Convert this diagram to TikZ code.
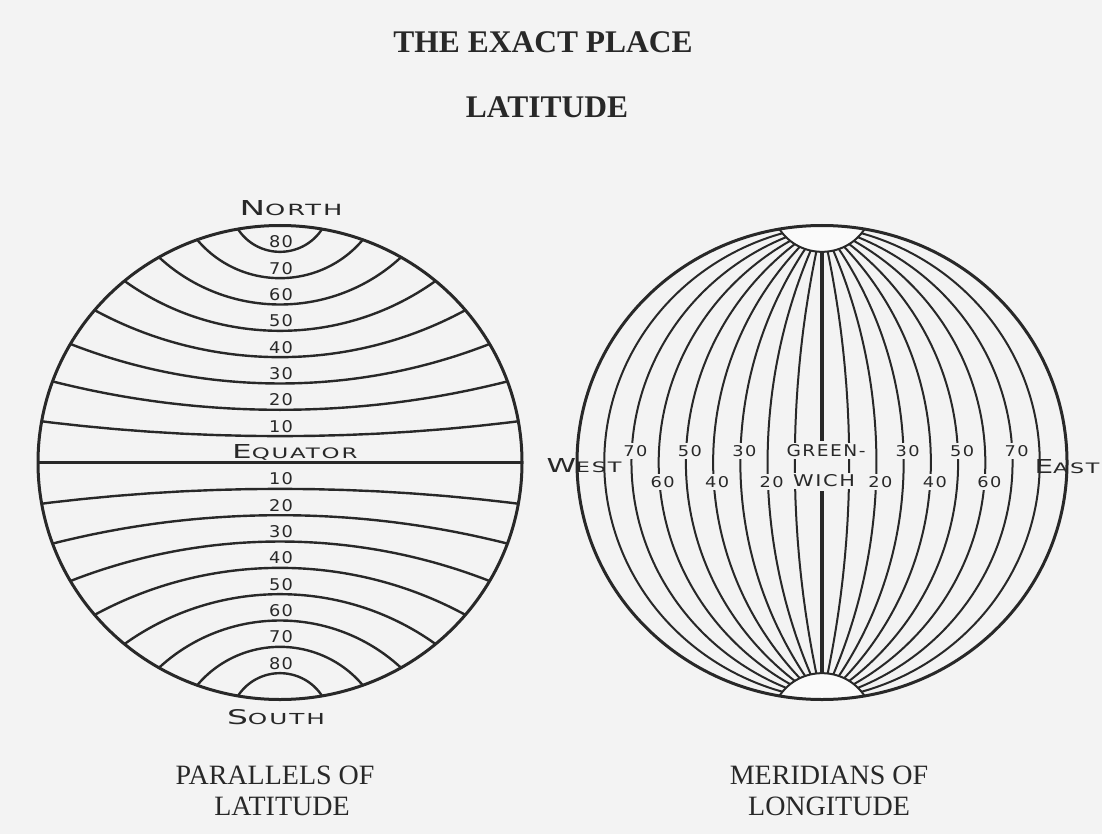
\documentclass[tikz,border=0pt]{standalone}
\usepackage{fontspec}
\usepackage{graphicx}
\setmainfont{Liberation Serif}
\newfontfamily\handfont[LetterSpace=8]{DejaVu Sans}
\definecolor{bg}{RGB}{243,243,243}
\definecolor{ink}{RGB}{40,40,40}
\newcommand\hw[3]{\resizebox{#1pt}{#2pt}{\handfont #3}}
\newcommand\mixcaps[2]{{\fontsize{16}{16}\selectfont #1}{\fontsize{12}{12}\selectfont #2}}
\tikzset{
  outerline/.style={draw=ink, line width=3pt},
  parline/.style={draw=ink, line width=2.4pt},
  merline/.style={draw=ink, line width=2pt},
  gwline/.style={draw=ink, line width=4pt},
  numlbl/.style={text=ink, inner sep=0pt},
  gridlbl/.style={text=ink, fill=bg, inner sep=2pt},
  handlbl/.style={text=ink, inner sep=0pt},
  titletext/.style={text=ink, inner sep=0pt, anchor=base, font=\fontsize{31.5}{36}\selectfont\bfseries},
  captiontext/.style={text=ink, inner sep=0pt, anchor=base, font=\fontsize{28}{32}\selectfont},
}
\begin{document}
\begin{tikzpicture}[x=1pt, y=-1pt]
\fill[bg] (0,0) rectangle (1102,834);
\useasboundingbox (0,0) rectangle (1102,834);

% ---------- titles ----------
\node[titletext] (t1) at (543,53) {THE EXACT PLACE};
\node[titletext] (t2) at (547,118) {LATITUDE};

% ---------- left globe: parallels ----------
\begin{scope}[shift={(280,462.5)}, x=242pt, y=237pt]
  \draw[parline] (-1,0) -- (1,0);
  \foreach \p in {10,20,30,40,50,60,70,80}{
    \pgfmathsetmacro\gA{cos(\p)}
    \pgfmathsetmacro\gB{sin(\p)}
    \pgfmathsetmacro\gC{\p/90}
    \pgfmathsetmacro\gK{(1-\gC*\gC)/(2*(\gB-\gC))}
    \pgfmathsetmacro\gR{\gK-\gC}
    \pgfmathsetmacro\gT{atan2(\gB-\gK,\gA)}
    \pgfmathsetmacro\gU{-180-\gT}
    \draw[parline] plot[domain=\gU:\gT, samples=60, smooth] ({\gR*cos(\x)}, {\gK+\gR*sin(\x)});
    \draw[parline] plot[domain=\gU:\gT, samples=60, smooth] ({\gR*cos(\x)}, {-\gK-\gR*sin(\x)});
  }
  \draw[outerline] (0,0) ellipse[x radius=242pt, y radius=237pt];
\end{scope}

% ---------- right globe: meridians ----------
\begin{scope}[shift={(822,462.5)}, x=245pt, y=237pt]
  \foreach \m in {1,...,8}{
    \pgfmathsetmacro\gM{\m/9}
    \pgfmathsetmacro\gH{(\gM*\gM-1)/(2*\gM)}
    \pgfmathsetmacro\gR{\gM-\gH}
    \pgfmathsetmacro\gT{atan2(1,-\gH)}
    \draw[merline] plot[domain=-\gT:\gT, samples=60, smooth] ({\gH+\gR*cos(\x)}, {\gR*sin(\x)});
    \draw[merline] plot[domain=-\gT:\gT, samples=60, smooth] ({-\gH-\gR*cos(\x)}, {\gR*sin(\x)});
  }
  % polar caps
  \pgfmathsetmacro\gA{cos(80)}
  \pgfmathsetmacro\gB{sin(80)}
  \pgfmathsetmacro\gC{80/90}
  \pgfmathsetmacro\gK{(1-\gC*\gC)/(2*(\gB-\gC))}
  \pgfmathsetmacro\gR{\gK-\gC}
  \pgfmathsetmacro\gT{atan2(\gB-\gK,\gA)}
  \pgfmathsetmacro\gU{-180-\gT}
  \fill[bg!40!white] plot[domain=80:100, samples=20] ({cos(\x)},{sin(\x)}) -- plot[domain=\gU:\gT, samples=40] ({\gR*cos(\x)},{\gK+\gR*sin(\x)}) -- cycle;
  \fill[bg!40!white] plot[domain=80:100, samples=20] ({cos(\x)},{-sin(\x)}) -- plot[domain=\gU:\gT, samples=40] ({\gR*cos(\x)},{-\gK-\gR*sin(\x)}) -- cycle;
  \draw[merline] plot[domain=\gU:\gT, samples=40, smooth] ({\gR*cos(\x)},{\gK+\gR*sin(\x)});
  \draw[merline] plot[domain=\gU:\gT, samples=40, smooth] ({\gR*cos(\x)},{-\gK-\gR*sin(\x)});
  \draw[outerline] (0,0) ellipse[x radius=245pt, y radius=237pt];
\end{scope}
% Greenwich meridian
\draw[gwline] (822,252) -- (822,441);
\draw[gwline] (822,491) -- (822,673);

% ---------- left globe labels ----------
\node[handlbl] (north) at (291,208) {\hw{103}{15}{\mixcaps{N}{ORTH}}};
\node[handlbl] (south) at (276,717) {\hw{98}{15}{\mixcaps{S}{OUTH}}};
\node[handlbl] (equator) at (295,452) {\hw{125}{14}{\mixcaps{E}{QUATOR}}};
\foreach \p in {10,20,30,40,50,60,70,80}{
  \node[numlbl] (n\p) at (281,{452.5-2.6333*\p}) {\hw{24}{12}{\p}};
  \node[numlbl] (s\p) at (281,{452.5+2.6333*\p}) {\hw{24}{12}{\p}};
}

% ---------- right globe labels ----------
\node[handlbl] (west) at (584,466) {\hw{75}{14}{\mixcaps{W}{EST}}};
\node[handlbl] (east) at (1067,467) {\hw{65}{14}{\mixcaps{E}{AST}}};
\node[gridlbl] (green) at (826,451) {\hw{79}{12}{GREEN-}};
\node[gridlbl] (wich) at (824,481) {\hw{62}{12}{WICH}};
\foreach \l in {30,50,70}{
  \node[gridlbl] (w\l) at ({826-2.7222*\l},451) {\hw{24}{11}{\l}};
  \node[gridlbl] (e\l) at ({826+2.7222*\l},451) {\hw{24}{11}{\l}};
}
\foreach \l in {20,40,60}{
  \node[gridlbl] (w\l) at ({826-2.7222*\l},482) {\hw{24}{11}{\l}};
  \node[gridlbl] (e\l) at ({826+2.7222*\l},482) {\hw{24}{11}{\l}};
}

% ---------- captions ----------
\node[captiontext] (c1) at (275,784) {PARALLELS OF};
\node[captiontext] (c2) at (282,815) {LATITUDE};
\node[captiontext] (c3) at (829,784) {MERIDIANS OF};
\node[captiontext] (c4) at (829,815) {LONGITUDE};
\end{tikzpicture}
\end{document}
